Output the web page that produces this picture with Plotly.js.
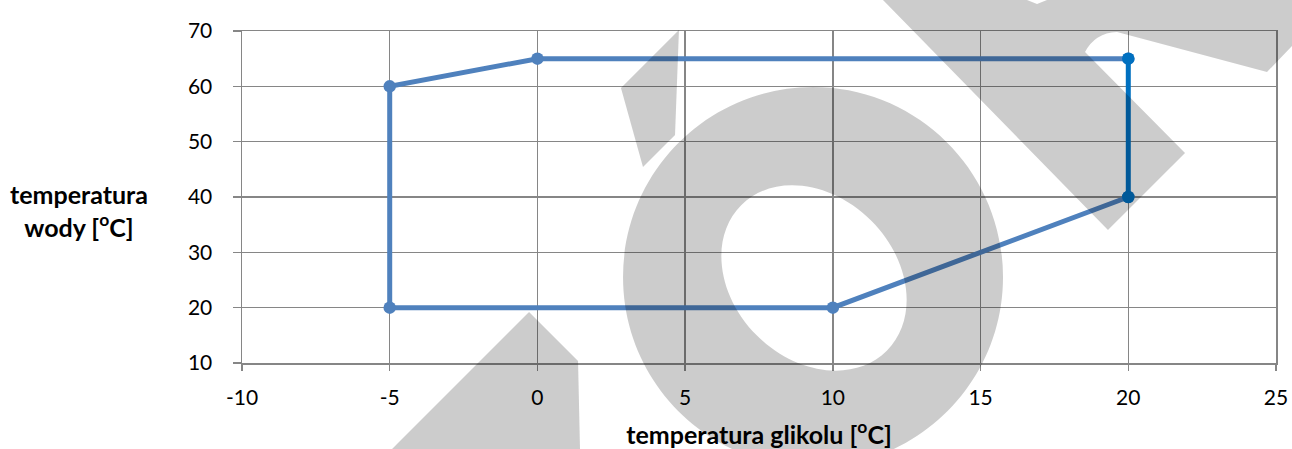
<!DOCTYPE html>
<html>
<head>
<meta charset="utf-8">
<script src="https://cdn.plot.ly/plotly-3.0.1.min.js"></script>
<style>
  html, body { margin: 0; padding: 0; background: #fff; }
  #chart { width: 1292px; height: 449px; }
</style>
</head>
<body>
<div id="chart"></div>
<script>
// ---- data ----
const glycolTemp = [20, 10, -5, -5, 0, 20];      // x, main envelope
const waterTemp  = [40, 20, 20, 60, 65, 65];      // y, main envelope
const edgeGlycol = [20, 20];                       // x, right edge segment
const edgeWater  = [65, 40];                       // y, right edge segment
const xTickVals  = [-10, -5, 0, 5, 10, 15, 20, 25];
const yTickVals  = [10, 20, 30, 40, 50, 60, 70];
const xTitle = 'temperatura glikolu [<sup>o</sup>C]';
const yTitle = 'temperatura<br>wody [<sup>o</sup>C]';

// ---- geometry of plot area (pixels) ----
const L = 242, R = 1276, T = 31, B = 363;
const fx = x => ((x - L) / (R - L)).toFixed(4);
const fy = y => ((B - y) / (B - T)).toFixed(4);
const pt = (x, y) => fx(x) + ',' + fy(y);

function poly(points) {
  return 'M' + points.map(p => pt(p[0], p[1])).join(' L') + ' Z';
}
function ellipse(cx, cy, a, b, deg, rev) {
  const t = deg * Math.PI / 180, c = Math.cos(t), s = Math.sin(t), k = 0.5523;
  const sg = rev ? -1 : 1;
  const P = (u, v) => { v *= sg; return pt(cx + u * c - v * s, cy + u * s + v * c); };
  return 'M' + P(a, 0) +
    ' C' + P(a, k * b) + ' ' + P(k * a, b) + ' ' + P(0, b) +
    ' C' + P(-k * a, b) + ' ' + P(-a, k * b) + ' ' + P(-a, 0) +
    ' C' + P(-a, -k * b) + ' ' + P(-k * a, -b) + ' ' + P(0, -b) +
    ' C' + P(k * a, -b) + ' ' + P(a, -k * b) + ' ' + P(a, 0) + ' Z';
}

// watermark (decoration overlay)
const wm = 'rgba(0,0,0,0.2)';
const bandPath = 'M' + pt(883, 0) + ' L' + pt(1108, 230) + ' L' + pt(1185, 153) +
  ' L' + pt(1085, 52) + ' Q' + pt(1095, 33) + ' ' + pt(1117, 32) +
  ' L' + pt(1267, 72) + ' L' + pt(1292, 46) + ' L' + pt(1292, 0) +
  ' L' + pt(1047, 0) + ' L' + pt(1037, 4) + ' L' + pt(1027, 0) + ' Z';
const ringPath = ellipse(813, 277, 190, 190, 0, false) + ' ' + ellipse(814, 278, 103, 81, 45, true);
const shapeBase = { type: 'path', xref: 'paper', yref: 'paper', fillcolor: wm, line: { width: 0 }, layer: 'above' };
const shapes = [
  Object.assign({}, shapeBase, { path: bandPath }),
  Object.assign({}, shapeBase, { path: ringPath, fillrule: 'evenodd' }),
  Object.assign({}, shapeBase, { path: poly([[679, 30], [621, 88], [643, 167], [675, 135]]) }),
  Object.assign({}, shapeBase, { path: poly([[392, 449], [529, 312], [578, 361], [580, 449]]) })
];

const traces = [
  {
    x: glycolTemp, y: waterTemp, type: 'scatter', mode: 'lines+markers',
    line: { color: '#4F81BD', width: 5 },
    marker: { color: '#4F81BD', size: 12.5 },
    hoverinfo: 'skip', showlegend: false
  },
  {
    x: edgeGlycol, y: edgeWater, type: 'scatter', mode: 'lines+markers',
    line: { color: '#0070C0', width: 5 },
    marker: { color: '#0070C0', size: 12.5 },
    hoverinfo: 'skip', showlegend: false
  }
];

const gridColor = '#868686';
const titleFont = { size: 25, color: '#000', family: 'Lato, sans-serif', weight: 'bold' };
const layout = {
  width: 1292, height: 449,
  margin: { l: L, r: 1292 - R, t: T, b: 449 - B, pad: 0 },
  paper_bgcolor: '#ffffff', plot_bgcolor: '#ffffff',
  font: { family: 'Lato, "Open Sans", sans-serif', size: 21, color: '#000000' },
  showlegend: false,
  xaxis: {
    range: [-10, 25], tickvals: xTickVals, ticktext: xTickVals.map(String),
    showgrid: true, gridcolor: gridColor, gridwidth: 1.5,
    zeroline: false, showline: true, linecolor: gridColor, linewidth: 1.5, mirror: true,
    ticks: 'outside', ticklen: 6, tickcolor: gridColor, tickwidth: 1.5,
    ticklabelstandoff: 9,
    tickfont: { size: 21, color: '#000' },
    title: { text: xTitle, font: titleFont, standoff: 20 },
    fixedrange: true
  },
  yaxis: {
    range: [10, 70], tickvals: yTickVals, ticktext: yTickVals.map(String),
    showgrid: true, gridcolor: gridColor, gridwidth: 1.5,
    zeroline: false, showline: true, linecolor: gridColor, linewidth: 1.5, mirror: true,
    ticks: 'outside', ticklen: 8, tickcolor: gridColor, tickwidth: 1.5,
    ticklabelstandoff: 16,
    tickfont: { size: 21, color: '#000' },
    fixedrange: true
  },
  annotations: [
    {
      text: yTitle, xref: 'paper', yref: 'paper',
      x: Number(fx(79)), y: Number(fy(210)), xanchor: 'center', yanchor: 'middle',
      showarrow: false, align: 'center',
      font: titleFont
    }
  ],
  shapes: shapes
};

Plotly.newPlot('chart', traces, layout, { staticPlot: true, displayModeBar: false });
</script>
</body>
</html>
